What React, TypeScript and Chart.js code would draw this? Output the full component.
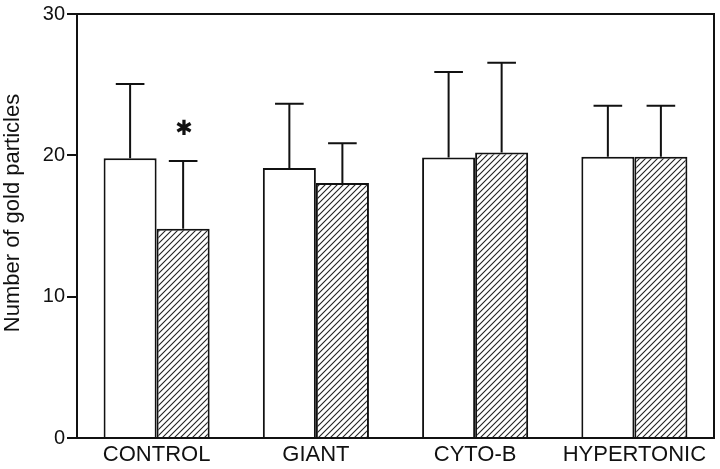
import React, { useEffect, useRef } from "react";
import { Chart, registerables } from "chart.js";

Chart.register(...registerables);

const categories = ["CONTROL", "GIANT", "CYTO-B", "HYPERTONIC"];
const openValues = [19.8, 19.1, 19.85, 19.9];
const openErrors = [5.25, 4.55, 6.05, 3.6];
const hatchedValues = [14.8, 18.05, 20.2, 19.9];
const hatchedErrors = [4.8, 2.8, 6.35, 3.6];
const yTicks = [0, 10, 20, 30];
const yTitle = "Number of gold particles";
const markerCategory = ["CONTROL"];
const markerDataset = [1];
const markerValue = [21.8];
const markerText = ["✱"];

const FONT = "'Liberation Sans', Arial, Helvetica, sans-serif";
const INK = "#111";

function makeHatch(): CanvasPattern | string {
  const c = document.createElement("canvas");
  const s = 6;
  c.width = s;
  c.height = s;
  const g = c.getContext("2d");
  if (!g) return "#ccc";
  g.fillStyle = "#fff";
  g.fillRect(0, 0, s, s);
  g.strokeStyle = "#222";
  g.lineWidth = 1.1;
  g.beginPath();
  g.moveTo(-1, s + 1);
  g.lineTo(s + 1, -1);
  g.moveTo(-1, 1);
  g.lineTo(1, -1);
  g.moveTo(s - 1, s + 1);
  g.lineTo(s + 1, s - 1);
  g.stroke();
  return g.createPattern(c, "repeat") || "#ccc";
}

const errorLists = [openErrors, hatchedErrors];

const decorPlugin = {
  id: "decor",
  afterDatasetsDraw(chart: any) {
    const ctx = chart.ctx;
    const yScale = chart.scales.y;
    const area = chart.chartArea;
    ctx.save();
    // error bars (upper only)
    ctx.strokeStyle = INK;
    ctx.lineWidth = 2;
    chart.data.datasets.forEach((ds: any, d: number) => {
      const meta = chart.getDatasetMeta(d);
      meta.data.forEach((bar: any, i: number) => {
        const v = ds.data[i];
        const top = yScale.getPixelForValue(v + errorLists[d][i]);
        const cap = bar.width * 0.27;
        ctx.beginPath();
        ctx.moveTo(bar.x, bar.y);
        ctx.lineTo(bar.x, top);
        ctx.moveTo(bar.x - cap, top);
        ctx.lineTo(bar.x + cap, top);
        ctx.stroke();
      });
    });
    // significance markers
    ctx.fillStyle = INK;
    ctx.font = `bold 21px 'DejaVu Sans', sans-serif`;
    ctx.textAlign = "center";
    ctx.textBaseline = "middle";
    markerCategory.forEach((cat, k) => {
      const idx = categories.indexOf(cat);
      const meta = chart.getDatasetMeta(markerDataset[k]);
      const bar: any = meta.data[idx];
      ctx.fillText(markerText[k], bar.x + 1, yScale.getPixelForValue(markerValue[k]));
    });
    // frame
    ctx.lineWidth = 2;
    ctx.strokeStyle = INK;
    ctx.strokeRect(area.left, area.top, area.right - area.left, area.bottom - area.top);
    // y title
    ctx.save();
    ctx.translate(19, 213);
    ctx.rotate(-Math.PI / 2);
    ctx.font = `22px ${FONT}`;
    ctx.textAlign = "center";
    ctx.textBaseline = "alphabetic";
    ctx.fillStyle = INK;
    ctx.fillText(yTitle, 0, 0);
    ctx.restore();
    ctx.restore();
  },
};

export default function App() {
  const ref = useRef<HTMLCanvasElement | null>(null);
  useEffect(() => {
    document.body.style.margin = "0";
    if (!ref.current) return;
    const hatch = makeHatch();
    const chart = new Chart(ref.current, {
      type: "bar",
      data: {
        labels: categories,
        datasets: [
          {
            label: "open",
            data: openValues,
            backgroundColor: "#ffffff",
            borderColor: INK,
            borderWidth: 2,
            borderSkipped: "bottom",
            categoryPercentage: 0.666,
            barPercentage: 1,
          },
          {
            label: "hatched",
            data: hatchedValues,
            backgroundColor: hatch as any,
            borderColor: INK,
            borderWidth: 2,
            borderSkipped: "bottom",
            categoryPercentage: 0.666,
            barPercentage: 1,
          },
        ],
      },
      options: {
        responsive: false,
        animation: false,
        events: [],
        layout: { padding: { top: 12, right: 6, left: 0, bottom: 0 } },
        plugins: {
          legend: { display: false },
          title: { display: false },
          tooltip: { enabled: false },
        },
        scales: {
          x: {
            grid: { display: false, drawTicks: false },
            border: { display: false },
            ticks: {
              color: INK,
              font: { family: FONT, size: 22 },
              padding: 4,
              maxRotation: 0,
              autoSkip: false,
            },
            afterFit: (scale: any) => {
              scale.height = 31;
            },
          },
          y: {
            min: 0,
            max: 30,
            afterBuildTicks: (scale: any) => {
              scale.ticks = yTicks.map((v) => ({ value: v }));
            },
            grid: {
              display: true,
              drawOnChartArea: false,
              drawTicks: true,
              tickLength: 10,
              color: INK,
              lineWidth: 2,
            },
            border: { display: false },
            ticks: {
              color: INK,
              font: { family: FONT, size: 20 },
              padding: 2,
            },
            afterFit: (scale: any) => {
              scale.width = 77;
            },
          },
        },
      },
      plugins: [decorPlugin],
    });
    return () => chart.destroy();
  }, []);
  return <canvas ref={ref} width={720} height={469} />;
}
